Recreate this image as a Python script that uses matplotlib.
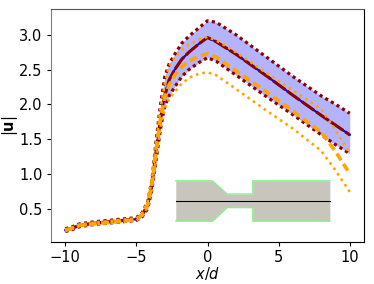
import numpy as np
import matplotlib
matplotlib.use('Agg')
import matplotlib.pyplot as plt

# velocity profiles along the axis
x = [-10, -9.5, -9, -8, -7, -6, -5, -4.6, -4.2, -3.9, -3.6, -3.3, -3.0, -2.7, -2.3, -1.8, -1.3, -0.6, 0, 0.6, 2, 4, 6, 8, 9, 10]
u_mean = [0.19, 0.22, 0.26, 0.29, 0.31, 0.33, 0.35, 0.41, 0.55, 0.85, 1.35, 1.8, 2.12, 2.35, 2.5, 2.65, 2.75, 2.87, 2.96, 2.90, 2.72, 2.43, 2.13, 1.84, 1.7, 1.56]
u_up = [0.21, 0.24, 0.28, 0.31, 0.33, 0.35, 0.37, 0.44, 0.6, 0.92, 1.5, 2.0, 2.4, 2.58, 2.72, 2.88, 2.98, 3.1, 3.2, 3.18, 3.0, 2.7, 2.4, 2.12, 2.0, 1.87]
u_lo = [0.17, 0.2, 0.24, 0.27, 0.29, 0.31, 0.33, 0.38, 0.5, 0.78, 1.22, 1.65, 1.98, 2.12, 2.25, 2.4, 2.5, 2.6, 2.67, 2.62, 2.42, 2.13, 1.85, 1.56, 1.42, 1.29]
u_exp = [0.19, 0.22, 0.26, 0.28, 0.30, 0.32, 0.34, 0.41, 0.56, 0.87, 1.35, 1.8, 2.1, 2.28, 2.42, 2.54, 2.62, 2.69, 2.73, 2.68, 2.48, 2.2, 1.9, 1.6, 1.32, 1.0]
u_exp_up = [0.2, 0.23, 0.27, 0.3, 0.32, 0.34, 0.36, 0.43, 0.6, 0.93, 1.45, 1.95, 2.3, 2.55, 2.67, 2.78, 2.86, 2.93, 2.97, 2.92, 2.75, 2.47, 2.2, 1.93, 1.63, 1.29]
u_exp_lo = [0.18, 0.21, 0.25, 0.27, 0.29, 0.31, 0.33, 0.39, 0.52, 0.8, 1.25, 1.68, 1.95, 2.08, 2.18, 2.3, 2.38, 2.44, 2.46, 2.42, 2.22, 1.93, 1.65, 1.33, 1.05, 0.74]

# nozzle outline
geom_x = [-2.23, 0.35, 1.37, 3.18, 3.18, 8.6]
geom_up = [0.90, 0.90, 0.71, 0.71, 0.90, 0.90]
geom_lo = [0.32, 0.32, 0.515, 0.515, 0.32, 0.32]
center_y = 0.61

fig = plt.figure(figsize=(3.74, 2.84), dpi=100)
ax = fig.add_axes([51/374, 1 - 242/284, 313/374, 233/284])

ax.fill_between(x, u_lo, u_up, color='#b3b3ff', lw=0)
ax.plot(x, u_mean, color='blue', lw=1.5)
ax.plot(x, u_mean, color='darkred', lw=2.2, ls=(0, (5, 0.8)))
ax.plot(x, u_up, color='darkred', lw=2.3, ls=(0, (1, 1.05)))
ax.plot(x, u_lo, color='darkred', lw=2.3, ls=(0, (1, 1.05)))
ax.plot(x, u_exp, color='orange', lw=2.6, ls=(0, (2.2, 1.2)))
ax.plot(x, u_exp_up, color='orange', lw=1.9, ls=(0, (1, 1.5)))
ax.plot(x, u_exp_lo, color='orange', lw=1.9, ls=(0, (1, 1.5)))

ax.fill_between(geom_x, geom_lo, geom_up, color='#c8c5bd', lw=0, zorder=3)
ax.plot(geom_x, geom_up, color='#90ee90', lw=1, zorder=4)
ax.plot(geom_x, geom_lo, color='#90ee90', lw=1, zorder=4)
ax.plot([geom_x[0], geom_x[-1]], [center_y, center_y], color='black', lw=0.8, zorder=5)

ax.set_xlim(-11, 11)
ax.set_ylim(0.02, 3.37)
ax.set_xticks([-10, -5, 0, 5, 10])
ax.set_yticks([0.5, 1.0, 1.5, 2.0, 2.5, 3.0])
ax.tick_params(labelsize=10.5, length=3, pad=3)
ax.spines['left'].set_color('#808080')
ax.spines['top'].set_color('#555555')
ax.set_xlabel('$x/d$', fontsize=10.5, labelpad=0)
ax.set_ylabel(r'$|\mathbf{u}|$', fontsize=10.5)
ax.yaxis.set_label_coords(-0.1, 0.5)

fig.savefig('out.png', dpi=100)
